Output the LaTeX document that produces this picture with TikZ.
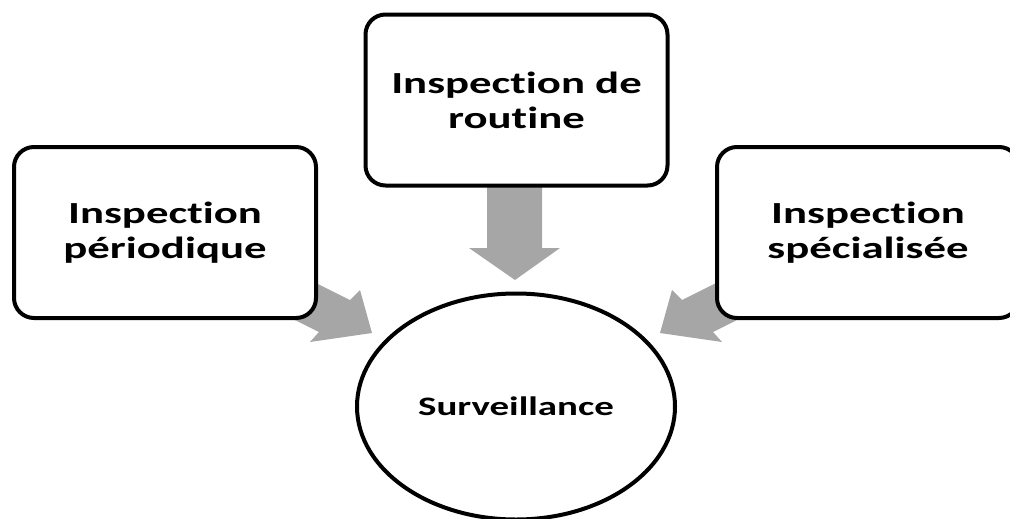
\documentclass[tikz,border=0pt]{standalone}
\usepackage{fontspec}
\setmainfont{Carlito}[FakeStretch=1.46, Ligatures=NoCommon]
\usetikzlibrary{shapes.geometric}
\definecolor{arrowgray}{HTML}{A6A6A6}
\tikzset{
  box/.style={draw=black, line width=3pt, fill=white, rounded corners=15pt,
    minimum width=226.5pt, minimum height=128.25pt, inner sep=0pt,
    align=center, font=\bfseries\fontsize{23}{26.25}\selectfont},
  hub/.style={draw=black, line width=3pt, fill=white, ellipse,
    minimum width=238.5pt, minimum height=169.5pt, inner sep=0pt,
    font=\bfseries\fontsize{20}{24}\selectfont},
  blockarrow/.style={fill=arrowgray, draw=none}
}
\begin{document}
\begin{tikzpicture}[x=0.75pt, y=-0.75pt]
\useasboundingbox (0,0) rectangle (1010,518);
% block arrows (drawn first, boxes cover their tails)
\fill[blockarrow] (280,265) -- (350,300) -- (360,290) -- (372,333) -- (310,342) -- (319,332) -- (255,300) -- cycle;
\fill[blockarrow] (752,265) -- (682,300) -- (672,290) -- (660,333) -- (722,342) -- (713,332) -- (777,300) -- cycle;
\fill[blockarrow] (487,150) -- (487,248) -- (469,248) -- (515,280) -- (560,248) -- (542,248) -- (542,150) -- cycle;
% nodes
\node[box] (periodique) at (165,232.5) {Inspection\\périodique};
\node[box] (routine) at (516.5,100) {Inspection de\\routine};
\node[box] (specialisee) at (868,232.5) {Inspection\\spécialisée};
\node[hub] (surv) at (516,406.5) {Surveillance};
\end{tikzpicture}
\end{document}
